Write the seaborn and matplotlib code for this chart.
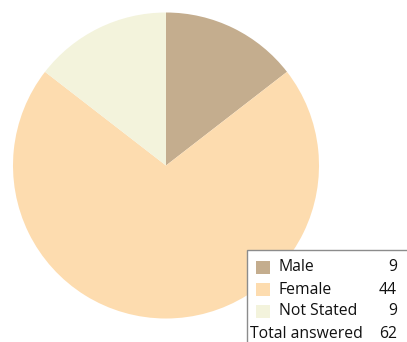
import matplotlib
matplotlib.use("Agg")
import matplotlib.pyplot as plt
from matplotlib.patches import Rectangle
import seaborn as sns

categories = ["Male", "Female", "Not Stated"]
counts = [9, 44, 9]
colors = ["#C4AD8E", "#FDDCAF", "#F3F3DC"]
total_label = "Total answered"

sns.set_style("white")
plt.rcParams["font.family"] = ["Open Sans", "DejaVu Sans"]

W, H = 407, 342
fig = plt.figure(figsize=(W / 100, H / 100), dpi=100)

# pie axes: centre (166, 165.5) px, radius 153 px
cx, cy, r = 166, 165.5, 153
ax = fig.add_axes([(cx - r) / W, (H - cy - r) / H, 2 * r / W, 2 * r / H])
ax.pie(counts, colors=colors, startangle=90, counterclock=False, radius=1,
       wedgeprops=dict(linewidth=0))
ax.set_xlim(-1, 1)
ax.set_ylim(-1, 1)
ax.set_aspect("equal")
ax.axis("off")

# legend panel with counts
def fx(x):
    return x / W

def fy(y):
    return 1 - y / H

box = Rectangle((fx(246.5), fy(360)), fx(200), 110 / H, transform=fig.transFigure,
                facecolor="white", edgecolor="#8c8c8c", linewidth=1, zorder=5)
fig.add_artist(box)

row_y = [267, 289.5, 311]
fs = 11.3
for name, val, col, y in zip(categories, counts, colors, row_y):
    fig.add_artist(Rectangle((fx(256), fy(y + 6.5)), fx(14), 13 / H,
                             transform=fig.transFigure, facecolor=col,
                             edgecolor="none", zorder=6))
    fig.text(fx(279), fy(y), name, ha="left", va="center", fontsize=fs,
             color="#111111", zorder=7)
    fig.text(fx(397), fy(y), str(val), ha="right", va="center", fontsize=fs,
             color="#111111", zorder=7)

fig.text(fx(250), fy(333.5), total_label, ha="left", va="center", fontsize=fs,
         color="#111111", zorder=7)
fig.text(fx(397), fy(333.5), str(sum(counts)), ha="right", va="center",
         fontsize=fs, color="#111111", zorder=7)

fig.savefig("out.png", dpi=100)
